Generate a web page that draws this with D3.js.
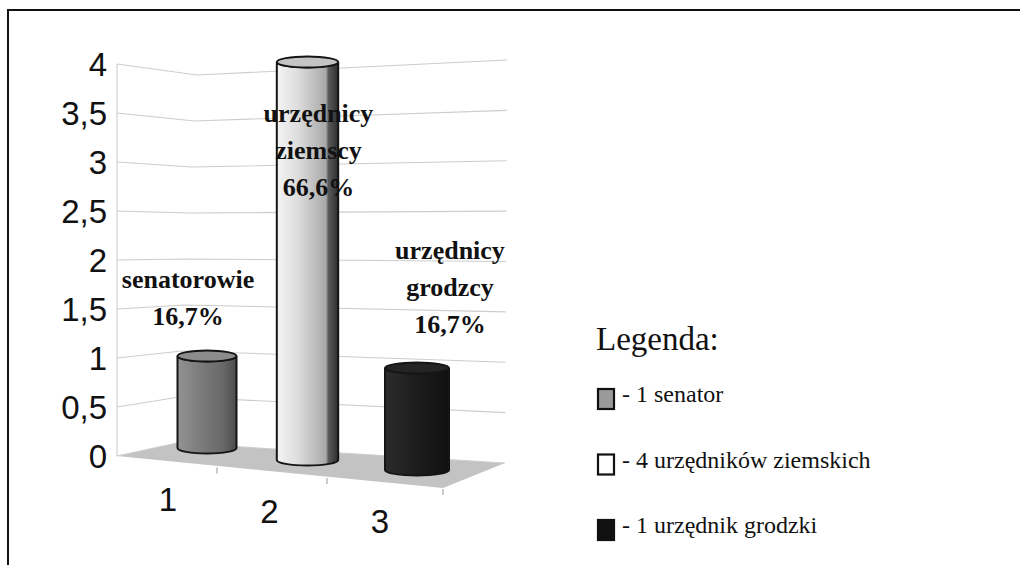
<!DOCTYPE html>
<html><head><meta charset="utf-8">
<script src="https://cdn.jsdelivr.net/npm/d3@7"></script>
<style>body{margin:0;background:#fff}svg{display:block}</style>
</head><body><svg id="c" width="1020" height="565"></svg>
<script>
// ---- data ----
const categories = ["1", "2", "3"];
const values = [1, 4, 1];
const barLabels = [["senatorowie", "16,7%"], ["urzędnicy", "ziemscy", "66,6%"], ["urzędnicy", "grodzcy", "16,7%"]];
const yTickValues = [0, 0.5, 1, 1.5, 2, 2.5, 3, 3.5, 4];
const yTickLabels = ["0", "0,5", "1", "1,5", "2", "2,5", "3", "3,5", "4"];
const legendTitle = "Legenda:";
const legendLabels = ["- 1 senator", "- 4 urzędników ziemskich", "- 1 urzędnik grodzki"];

// ---- layout / styles ----
const svg = d3.select("#c");
const serif = "'Liberation Serif','Times New Roman',serif";
const sans = "'Liberation Sans',Arial,sans-serif";
const barFills = ["g1", "g2", "g3"];
const topFills = ["#8c8c8c", "#c4c4c4", "#242424"];
const legendFills = ["#9a9a9a", "#ffffff", "#111111"];
const labelDX = [-19, 11, 33];
const labelY0 = [288, 122, 259];
const labelStep = [37, 37, 37];

// perspective planes: front-left edge, back-left corner, back-right edge
const xFront = 117;
const yFront = d3.scaleLinear().domain([0, 4]).range([456, 64]);
const xBack = d3.scaleLinear().domain([0, 4]).range([177, 197]);
const yBack = d3.scaleLinear().domain([0, 4]).range([443, 75]);
const xRight = d3.scaleLinear().domain([0, 4]).range([505, 507]);
const yRight = d3.scaleLinear().domain([0, 4]).range([463, 60]);
const floorFrontRight = [443, 488];

// bar placement (perspective corrected)
const xPos = d3.scalePoint().domain(categories).range([0, 1]);
const xScreen = d3.scaleLinear().domain([0, 0.5, 1]).range([207, 307.5, 417]);
const baseY = d3.scaleLinear().domain([207, 307.5, 417]).range([448, 460, 470]);
const barW = d3.scaleLinear().domain([207, 417]).range([59, 64]);
const ppu = d3.scaleLinear().domain([207, 307.5, 417]).range([92, 99.5, 102]);
const frontEdgeY = d3.scaleLinear().domain([xFront, floorFrontRight[0]]).range([457, 488]);
const catLabelX = d3.scaleLinear().domain([207, 417]).range([168, 380]);

// ---- defs ----
const defs = svg.append("defs");
function grad(id, stops) {
  const g = defs.append("linearGradient").attr("id", id).attr("x1", "0").attr("x2", "1").attr("y1", "0").attr("y2", "0");
  stops.forEach(s => g.append("stop").attr("offset", s[0]).attr("stop-color", s[1]));
}
grad("g1", [[0, "#939393"], [0.35, "#7e7e7e"], [0.8, "#666"], [1, "#4a4a4a"]]);
grad("g2", [[0, "#f4f4f4"], [0.35, "#dcdcdc"], [0.8, "#a9a9a9"], [0.84, "#5a5a5a"], [1, "#2e2e2e"]]);
grad("g3", [[0, "#2c2c2c"], [0.5, "#1c1c1c"], [1, "#111"]]);

// ---- frame ----
svg.append("line").attr("x1", 7).attr("x2", 1020).attr("y1", 10).attr("y2", 10).attr("stroke", "#111").attr("stroke-width", 2);
svg.append("line").attr("x1", 8).attr("x2", 8).attr("y1", 10).attr("y2", 565).attr("stroke", "#111").attr("stroke-width", 2);

// ---- floor ----
svg.append("polygon")
  .attr("points", [[xFront, yFront(0)], [xBack(0), yBack(0)], [xRight(0), yRight(0)], floorFrontRight].map(p => p.join(",")).join(" "))
  .attr("fill", "#c3c3c3");

// ---- gridlines ----
const grid = svg.append("g").attr("fill", "none").attr("stroke", "#cdcdcd").attr("stroke-width", 1.1);
yTickValues.forEach(v => {
  grid.append("polyline")
    .attr("points", [[xFront, yFront(v)], [xBack(v), yBack(v)], [xRight(v), yRight(v)]].map(p => p.join(",")).join(" "));
});
grid.append("line").attr("x1", xFront).attr("x2", xFront).attr("y1", yFront(4)).attr("y2", yFront(0));

// front edge ticks
categories.forEach((c, i) => {
  const tx = [217, 327, floorFrontRight[0]][i];
  svg.append("line").attr("x1", tx).attr("x2", tx).attr("y1", frontEdgeY(tx) + 1).attr("y2", frontEdgeY(tx) + 7)
    .attr("stroke", "#999").attr("stroke-width", 1);
});

// ---- y axis labels ----
svg.append("g").selectAll("text").data(yTickValues).join("text")
  .attr("x", 107).attr("y", d => yFront(d)).attr("dy", "0.36em")
  .attr("text-anchor", "end").attr("font-family", sans).attr("font-size", 33).attr("fill", "#111")
  .text((d, i) => yTickLabels[i]);

// ---- bars (cylinders) ----
const bars = svg.append("g");
categories.forEach((c, i) => {
  const cx = xScreen(xPos(c));
  const w = barW(cx), rx = w / 2, ry = 5.5;
  const yb = baseY(cx);
  const yt = yb - ppu(cx) * values[i];
  const l = cx - rx, r = cx + rx;
  const body = `M${l},${yt} L${l},${yb} A${rx},${ry} 0 0 0 ${r},${yb} L${r},${yt} A${rx},${ry} 0 0 1 ${l},${yt} Z`;
  bars.append("path").attr("d", body).attr("fill", `url(#${barFills[i]})`).attr("stroke", "#151515").attr("stroke-width", 2);
  bars.append("ellipse").attr("cx", cx).attr("cy", yt).attr("rx", rx).attr("ry", ry)
    .attr("fill", topFills[i]).attr("stroke", "#151515").attr("stroke-width", 2);
});

// ---- category labels ----
svg.append("g").selectAll("text").data(categories).join("text")
  .attr("x", d => catLabelX(xScreen(xPos(d))))
  .attr("y", d => baseY(xScreen(xPos(d))) + 51).attr("dy", "0.36em")
  .attr("text-anchor", "middle").attr("font-family", sans).attr("font-size", 33).attr("fill", "#111")
  .text(d => d);

// ---- bar annotations ----
categories.forEach((c, i) => {
  const cx = xScreen(xPos(c));
  barLabels[i].forEach((t, j) => {
    svg.append("text").attr("x", cx + labelDX[i]).attr("y", labelY0[i] + j * labelStep[i])
      .attr("text-anchor", "middle").attr("font-family", serif).attr("font-weight", "bold")
      .attr("font-size", 26).attr("fill", "#111").text(t);
  });
});

// ---- legend ----
svg.append("text").attr("x", 596).attr("y", 350).attr("font-family", serif).attr("font-size", 33).attr("fill", "#111").text(legendTitle);
const legY = d3.scalePoint().domain(legendLabels).range([402, 533]);
const leg = svg.append("g");
legendLabels.forEach((t, i) => {
  const by = legY(t);
  leg.append("rect").attr("x", 598).attr("y", by - 13).attr("width", 16).attr("height", 20)
    .attr("fill", legendFills[i]).attr("stroke", "#111").attr("stroke-width", 2.2);
  leg.append("text").attr("x", 622).attr("y", by).attr("font-family", serif).attr("font-size", 24).attr("fill", "#111").text(t);
});
</script>
</body></html>
